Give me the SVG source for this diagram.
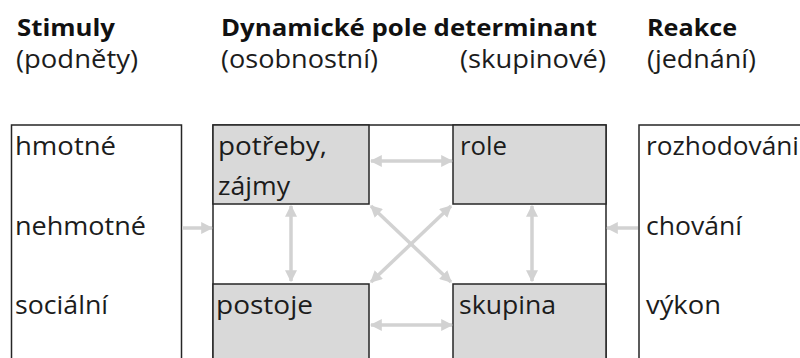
<svg xmlns="http://www.w3.org/2000/svg" width="800" height="358" viewBox="0 0 800 358">
  <style>
    text { font-family: "Open Sans", "Noto Sans", "DejaVu Sans", sans-serif; font-size: 25px; fill: #1c1c1c; }
    .head { font-weight: bold; font-size: 24px; fill: #111; }
    .box { fill: #ffffff; stroke: #262626; stroke-width: 1.5; }
    .cell { fill: #d9d9d9; stroke: #262626; stroke-width: 1.5; }
    .link { stroke: #d2d2d2; stroke-width: 3.5; fill: none; marker-end: url(#head); }
    .both { marker-start: url(#head); }
  </style>
  <defs>
    <marker id="head" viewBox="0 0 10 10" refX="9" refY="5" markerUnits="userSpaceOnUse" markerWidth="12" markerHeight="12" orient="auto-start-reverse">
      <path d="M0,0 L10,5 L0,10 z" fill="#d2d2d2"/>
    </marker>
  </defs>

  <rect width="800" height="358" fill="#ffffff"/>

  <!-- column headings -->
  <g id="headings">
    <text class="head" x="17" y="36" textLength="98" lengthAdjust="spacingAndGlyphs">Stimuly</text>
    <text x="16" y="68" textLength="122" lengthAdjust="spacingAndGlyphs">(podněty)</text>
    <text class="head" x="221" y="36" textLength="376" lengthAdjust="spacingAndGlyphs">Dynamické pole determinant</text>
    <text x="221" y="68" textLength="157" lengthAdjust="spacingAndGlyphs">(osobnostní)</text>
    <text x="460" y="68" textLength="146" lengthAdjust="spacingAndGlyphs">(skupinové)</text>
    <text class="head" x="647" y="36" textLength="90" lengthAdjust="spacingAndGlyphs">Reakce</text>
    <text x="647" y="68" textLength="109" lengthAdjust="spacingAndGlyphs">(jednání)</text>
  </g>

  <!-- stimuli column -->
  <g id="stimuly">
    <rect class="box" x="11.5" y="125" width="170" height="250"/>
    <text x="15" y="155" textLength="101" lengthAdjust="spacingAndGlyphs">hmotné</text>
    <text x="15" y="235" textLength="131" lengthAdjust="spacingAndGlyphs">nehmotné</text>
    <text x="15" y="314" textLength="93" lengthAdjust="spacingAndGlyphs">sociální</text>
  </g>

  <!-- field of determinants -->
  <g id="pole">
    <rect class="box" x="213" y="125" width="393" height="250"/>
  </g>
  <g id="potreby">
    <rect class="cell" x="213" y="125" width="156" height="79"/>
    <text x="218" y="155" textLength="109" lengthAdjust="spacingAndGlyphs">potřeby,</text>
    <text x="218" y="195" textLength="72" lengthAdjust="spacingAndGlyphs">zájmy</text>
  </g>
  <g id="role">
    <rect class="cell" x="453" y="125" width="153" height="79"/>
    <text x="460" y="155" textLength="47" lengthAdjust="spacingAndGlyphs">role</text>
  </g>
  <g id="postoje">
    <rect class="cell" x="213" y="284" width="156" height="91"/>
    <text x="216" y="314" textLength="97" lengthAdjust="spacingAndGlyphs">postoje</text>
  </g>
  <g id="skupina">
    <rect class="cell" x="453" y="284" width="153" height="91"/>
    <text x="459" y="314" textLength="97" lengthAdjust="spacingAndGlyphs">skupina</text>
  </g>

  <!-- reactions column -->
  <g id="reakce">
    <rect class="box" x="639" y="125" width="180" height="250"/>
    <text x="646" y="155" textLength="153" lengthAdjust="spacingAndGlyphs">rozhodováni</text>
    <text x="646" y="235" textLength="96" lengthAdjust="spacingAndGlyphs">chování</text>
    <text x="646" y="314" textLength="75" lengthAdjust="spacingAndGlyphs">výkon</text>
  </g>

  <!-- connectors -->
  <g id="connectors">
    <line class="link" x1="182" y1="228" x2="212" y2="228"/>
    <line class="link" x1="638" y1="228" x2="607" y2="228"/>
    <line class="link both" x1="371" y1="161" x2="452" y2="161"/>
    <line class="link both" x1="371" y1="325" x2="452" y2="325"/>
    <line class="link both" x1="291" y1="206" x2="291" y2="281"/>
    <line class="link both" x1="532" y1="206" x2="532" y2="281"/>
    <line class="link both" x1="371" y1="206" x2="451" y2="282"/>
    <line class="link both" x1="451" y1="206" x2="371" y2="282"/>
  </g>
</svg>
